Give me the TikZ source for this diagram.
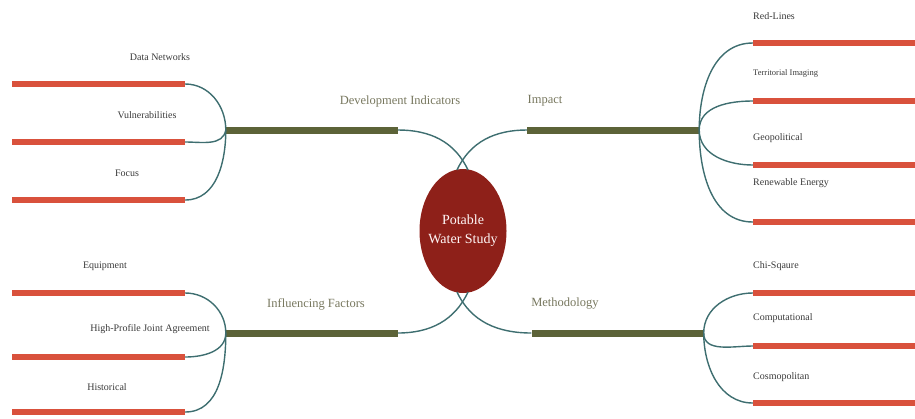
\documentclass[tikz,border=0pt]{standalone}
\usepackage{fontspec}
\setmainfont{Liberation Serif}
\usetikzlibrary{shapes.geometric}
\definecolor{leafred}{HTML}{D9513C}
\definecolor{olivebar}{HTML}{5C6338}
\definecolor{wire}{HTML}{3E6E70}
\definecolor{core}{HTML}{8E2019}
\definecolor{leaftext}{HTML}{3A3A3A}
\definecolor{branchtext}{HTML}{77775E}
\tikzset{
  leafbar/.style={rectangle,fill=leafred,inner sep=0pt,minimum height=6pt},
  mainbar/.style={rectangle,fill=olivebar,inner sep=0pt,minimum height=7pt,minimum width=172pt},
  wirestyle/.style={draw=wire,line width=1.4pt},
  leaflabel/.style={text=leaftext,font=\fontsize{10}{12}\selectfont,inner sep=0pt},
  branchlabel/.style={text=branchtext,font=\fontsize{12.5}{14}\selectfont,inner sep=0pt},
}
\begin{document}
\begin{tikzpicture}[x=1pt,y=-1pt]
\useasboundingbox (0,0) rectangle (915,418);
% centre
\node[ellipse,fill=core,minimum width=87pt,minimum height=124pt,inner sep=0pt] (c) at (463,231) {};
\node[text=white!88!pink,align=center,font=\fontsize{14}{19}\selectfont,inner sep=0pt] (ct) at (c.center) {Potable\\Water Study};
\coordinate (ctl) at (468,170);
\coordinate (ctr) at (457,170);
\coordinate (cbl) at (468,292);
\coordinate (cbr) at (457,292);
% main bars
\node[mainbar] (dev) at (312,130) {};
\node[mainbar] (imp) at (613,130) {};
\node[mainbar] (inf) at (312,333) {};
\node[mainbar] (met) at (617.5,333) {};
\node[branchlabel] (devl) at (400,101) {Development Indicators};
\node[branchlabel] (impl) at (545,101) {Impact};
\node[branchlabel] (infl) at (316,304) {Influencing Factors};
\node[branchlabel] (metl) at (565,304) {Methodology};
\draw[wirestyle] (dev.east) to[out=0,in=115] (ctl);
\draw[wirestyle] (ctr) to[out=65,in=180] (imp.west);
\draw[wirestyle] (inf.east) to[out=0,in=-115] (cbl);
\draw[wirestyle] (cbr) to[out=-65,in=180] (met.west);
% left top leaves
\foreach \n/\y in {a/84,b/142,c/200}{
  \node[leafbar,minimum width=173pt] (lt\n) at (98.5,\y) {};
}
\node[leaflabel] (ltal) at (160,57) {Data Networks};
\node[leaflabel] (ltbl) at (147,115) {Vulnerabilities};
\node[leaflabel] (ltcl) at (127,173) {Focus};
\draw[wirestyle] (lta.east) to[out=0,in=90] (dev.west);
\draw[wirestyle] (ltb.east) to[out=0,in=-100] (dev.west);
\draw[wirestyle] (ltc.east) to[out=0,in=-90] (dev.west);
% left bottom leaves
\foreach \n/\y in {a/293,b/357,c/412}{
  \node[leafbar,minimum width=173pt] (lb\n) at (98.5,\y) {};
}
\node[leaflabel] (lbal) at (105,266) {Equipment};
\node[leaflabel] (lbbl) at (150,329) {High-Profile Joint Agreement};
\node[leaflabel] (lbcl) at (107,387) {Historical};
\draw[wirestyle] (lba.east) to[out=0,in=90] (inf.west);
\draw[wirestyle] (lbb.east) to[out=0,in=-90] (inf.west);
\draw[wirestyle] (lbc.east) to[out=0,in=-90] (inf.west);
% right top leaves
\foreach \n/\y in {a/43,b/101,c/165,d/222}{
  \node[leafbar,minimum width=162pt] (rt\n) at (834,\y) {};
}
\node[leaflabel,anchor=west] (rtal) at (753,16) {Red-Lines};
\node[leaflabel,anchor=west,font=\fontsize{8.5}{10}\selectfont] (rtbl) at (753,73) {Territorial Imaging};
\node[leaflabel,anchor=west] (rtcl) at (753,138) {Geopolitical};
\node[leaflabel,anchor=west] (rtdl) at (753,183) {Renewable Energy};
\draw[wirestyle] (imp.east) to[out=90,in=180] (rta.west);
\draw[wirestyle] (imp.east) to[out=90,in=180] (rtb.west);
\draw[wirestyle] (imp.east) to[out=-90,in=180] (rtc.west);
\draw[wirestyle] (imp.east) to[out=-90,in=180] (rtd.west);
% right bottom leaves
\foreach \n/\y in {a/293,b/346,c/403}{
  \node[leafbar,minimum width=162pt] (rb\n) at (834,\y) {};
}
\node[leaflabel,anchor=west] (rbal) at (753,266) {Chi-Sqaure};
\node[leaflabel,anchor=west] (rbbl) at (753,318) {Computational};
\node[leaflabel,anchor=west] (rbcl) at (753,377) {Cosmopolitan};
\draw[wirestyle] (met.east) to[out=90,in=180] (rba.west);
\draw[wirestyle] (met.east) to[out=-90,in=180] (rbb.west);
\draw[wirestyle] (met.east) to[out=-90,in=180] (rbc.west);
\end{tikzpicture}
\end{document}
